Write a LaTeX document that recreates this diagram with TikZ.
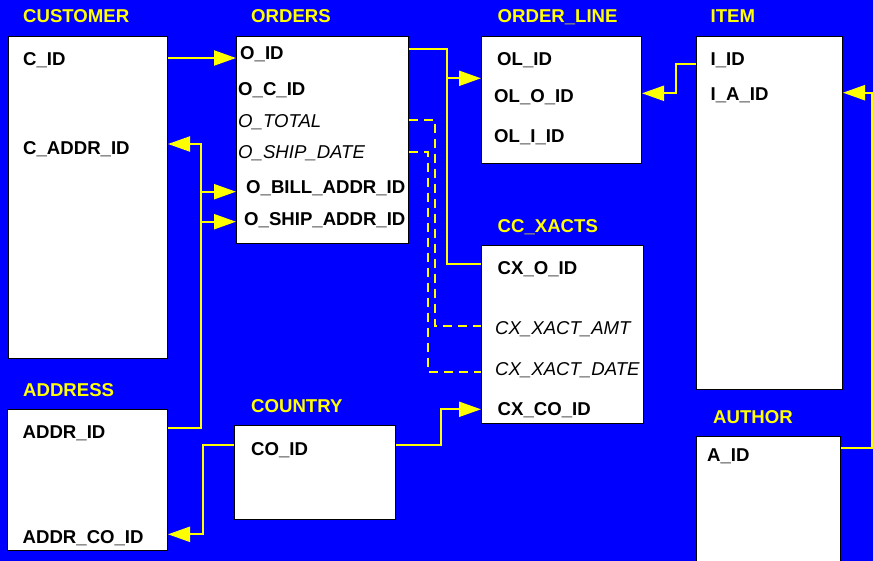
\documentclass[tikz,border=0pt]{standalone}
\usepackage{fontspec}
\setmainfont{Liberation Sans}
\usetikzlibrary{arrows.meta}
\definecolor{bg}{RGB}{0,0,255}
\definecolor{yl}{RGB}{255,255,0}
\begin{document}
\begin{tikzpicture}[x=1pt,y=-1pt,
 tbl/.style={draw=black,fill=white,line width=1pt,anchor=north west,inner sep=0pt},
 ttl/.style={anchor=base west,inner sep=0pt,text=yl,font=\fontsize{18.6}{20}\selectfont\bfseries},
 fld/.style={anchor=base west,inner sep=0pt,font=\fontsize{18.6}{20}\selectfont\bfseries},
 ifld/.style={anchor=base west,inner sep=0pt,font=\fontsize{18.6}{20}\selectfont\itshape},
 link/.style={draw=yl,line width=2.2pt},
 fk/.style={link,-{Triangle[length=22pt,width=15pt]}},
 dlink/.style={link,dash pattern=on 9pt off 6pt}]
\useasboundingbox (0,0) rectangle (873,561);
\clip (0,0) rectangle (873,561);
\fill[bg] (0,0) rectangle (873,561);
% tables
\node[tbl,minimum width=159pt,minimum height=322pt] (cust) at (8,36) {};
\node[tbl,minimum width=172pt,minimum height=207pt] (ord) at (236,36) {};
\node[tbl,minimum width=160pt,minimum height=127pt] (ol) at (481,36) {};
\node[tbl,minimum width=146pt,minimum height=353pt] (item) at (696,36) {};
\node[tbl,minimum width=162pt,minimum height=178pt] (cx) at (481,245) {};
\node[tbl,minimum width=144pt,minimum height=140pt] (auth) at (696,436) {};
\node[tbl,minimum width=160pt,minimum height=141pt] (addr) at (7,409) {};
\node[tbl,minimum width=161pt,minimum height=94pt] (ctry) at (234,425) {};
% titles
\node[ttl] (tcust) at (23,22.7) {CUSTOMER};
\node[ttl] (tord) at (251,22.7) {ORDERS};
\node[ttl] (tol) at (497.5,22.7) {ORDER\_LINE};
\node[ttl] (titem) at (710.5,22.7) {ITEM};
\node[ttl] (tcx) at (497.5,232.3) {CC\_XACTS};
\node[ttl] (tauth) at (713,423.3) {AUTHOR};
\node[ttl] (taddr) at (23,396.7) {ADDRESS};
\node[ttl] (tctry) at (251,412.3) {COUNTRY};
% fields
\node[fld] (cid) at (23,65.7) {C\_ID};
\node[fld] (caddr) at (23,154.3) {C\_ADDR\_ID};
\node[fld] (oid) at (240,60) {O\_ID};
\node[fld] (ocid) at (238,95.7) {O\_C\_ID};
\node[ifld] (otot) at (238,127.3) {O\_TOTAL};
\node[ifld] (oship) at (238,159) {O\_SHIP\_DATE};
\node[fld] (obill) at (246,193.3) {O\_BILL\_ADDR\_ID};
\node[fld] (oshipa) at (244,225.7) {O\_SHIP\_ADDR\_ID};
\node[fld] (olid) at (497,65.7) {OL\_ID};
\node[fld] (oloid) at (494,102.7) {OL\_O\_ID};
\node[fld] (oliid) at (494,142.7) {OL\_I\_ID};
\node[fld] (iid) at (710.5,65.7) {I\_ID};
\node[fld] (iaid) at (710.5,100.3) {I\_A\_ID};
\node[fld] (cxoid) at (497.5,274.3) {CX\_O\_ID};
\node[ifld] (cxamt) at (495,335) {CX\_XACT\_AMT};
\node[ifld] (cxdate) at (495,375) {CX\_XACT\_DATE};
\node[fld] (cxco) at (497.5,415) {CX\_CO\_ID};
\node[fld] (aid) at (707,461.7) {A\_ID};
\node[fld] (addrid) at (22.5,438.3) {ADDR\_ID};
\node[fld] (addrco) at (22.5,543.3) {ADDR\_CO\_ID};
\node[fld] (coid) at (251,455) {CO\_ID};
% connectors
\draw[fk] ([yshift=-22pt]cust.north east) -- ([yshift=-22pt]ord.north west);
\draw[fk] ([yshift=-19pt]addr.north east) -| ([xshift=33pt,yshift=-108pt]cust.north east) -- ([yshift=-108pt]cust.north east);
\draw[fk] ([xshift=-36pt,yshift=-155.7pt]ord.north west) -- ([yshift=-155.7pt]ord.north west);
\draw[fk] ([xshift=-36pt,yshift=-185.7pt]ord.north west) -- ([yshift=-185.7pt]ord.north west);
\draw[link] ([yshift=-13.3pt]ord.north east) -| ([xshift=-34pt,yshift=-19.3pt]cx.north west) -- ([yshift=-19.3pt]cx.north west);
\draw[fk] ([xshift=-34pt,yshift=-42.3pt]ol.north west) -- ([yshift=-42.3pt]ol.north west);
\draw[dlink] ([yshift=-84pt]ord.north east) -| ([xshift=-46pt,yshift=-81pt]cx.north west) -- ([yshift=-81pt]cx.north west);
\draw[dlink] ([yshift=-115.7pt]ord.north east) -| ([xshift=-53.3pt,yshift=-126.7pt]cx.north west) -- ([yshift=-126.7pt]cx.north west);
\draw[fk] ([yshift=-28pt]item.north west) -| ([xshift=34pt,yshift=-57.3pt]ol.north east) -- ([yshift=-57.3pt]ol.north east);
\draw[fk] ([yshift=-11.7pt]auth.north east) -| ([xshift=29pt,yshift=-56.7pt]item.north east) -- ([yshift=-56.7pt]item.north east);
\draw[fk] ([yshift=-20pt]ctry.north west) -| ([xshift=35.3pt,yshift=-125.3pt]addr.north east) -- ([yshift=-125.3pt]addr.north east);
\draw[fk] ([yshift=-20pt]ctry.north east) -| ([xshift=-40pt,yshift=-164.3pt]cx.north west) -- ([yshift=-164.3pt]cx.north west);
\end{tikzpicture}
\end{document}
